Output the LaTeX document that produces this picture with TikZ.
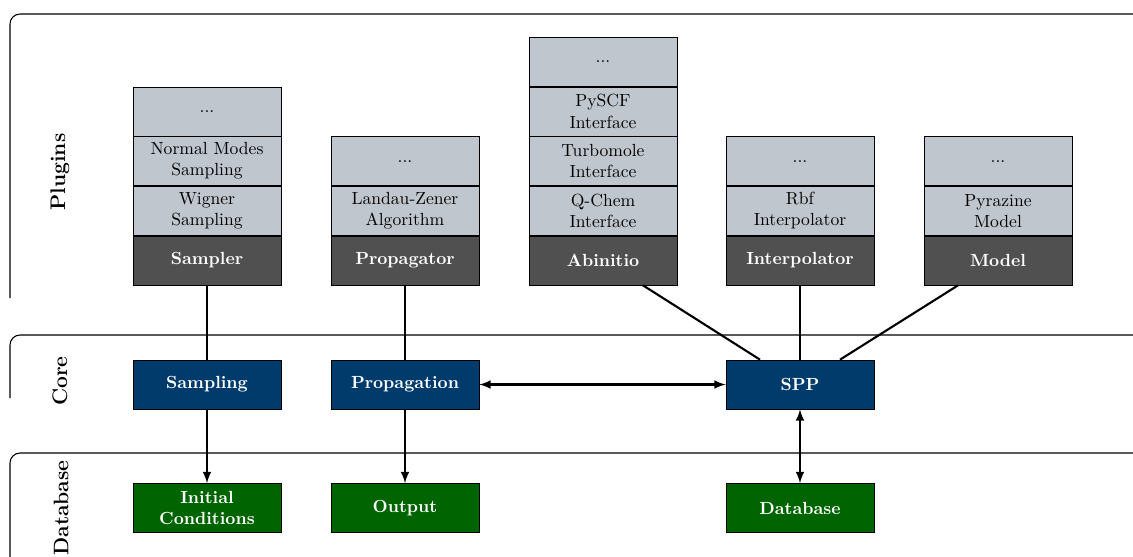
\documentclass[tikz,border=0pt]{standalone}
\usetikzlibrary{positioning,arrows}

\definecolor{plugingray}{RGB}{192,198,206}
\definecolor{basegray}{RGB}{80,80,80}
\definecolor{coreblue}{RGB}{0,59,107}
\definecolor{dbgreen}{RGB}{0,100,0}

\tikzset{
    block/.style={draw, minimum width=2.96cm, minimum height=0.98cm, inner sep=1pt, align=center},
    plugin/.style={block, fill=plugingray},
    base/.style={block, fill=basegray, text=white, font=\bfseries},
    core/.style={block, fill=coreblue, text=white, font=\bfseries},
    store/.style={block, fill=dbgreen, text=white, font=\bfseries},
    layer/.style={rotate=90, font=\large\bfseries},
    frame/.style={line width=0.6pt, rounded corners=0.2cm},
    link/.style={very thick},
}

\begin{document}
\begin{tikzpicture}[x=0.02cm, y=-0.02cm]
    \useasboundingbox (0,0) rectangle (1133,556);
    \clip (0,0) rectangle (1133,556);
    % layer frames
    \draw[frame] (10,298) |- (1160,14);
    \draw[frame] (10,398) |- (1160,335);
    \draw[frame] (10,580) |- (1160,453);
    \node[layer] (plugins) at (60,172) {Plugins};
    \node[layer] (corelabel) at (60,381) {Core};
    \node[layer] (dblabel) at (61,508) {Database};
    % plugin stacks
    \node[base] (sampler) at (207,260.5) {Sampler};
    \node[plugin, above=0pt of sampler] (wigner) {Wigner\\Sampling};
    \node[plugin, above=0pt of wigner] (normalmodes) {Normal Modes\\Sampling};
    \node[plugin, above=0pt of normalmodes] (samplerdots) {...};
    \node[base] (propagator) at (405,260.5) {Propagator};
    \node[plugin, above=0pt of propagator] (landauzener) {Landau-Zener\\Algorithm};
    \node[plugin, above=0pt of landauzener] (propagatordots) {...};
    \node[base] (abinitio) at (603,260.5) {Abinitio};
    \node[plugin, above=0pt of abinitio] (qchem) {Q-Chem\\Interface};
    \node[plugin, above=0pt of qchem] (turbomole) {Turbomole\\Interface};
    \node[plugin, above=0pt of turbomole] (pyscf) {PySCF\\Interface};
    \node[plugin, above=0pt of pyscf] (abinitiodots) {...};
    \node[base] (interpolator) at (800,260.5) {Interpolator};
    \node[plugin, above=0pt of interpolator] (rbf) {Rbf\\Interpolator};
    \node[plugin, above=0pt of rbf] (interpolatordots) {...};
    \node[base] (model) at (998,260.5) {Model};
    \node[plugin, above=0pt of model] (pyrazine) {Pyrazine\\Model};
    \node[plugin, above=0pt of pyrazine] (modeldots) {...};
    % core
    \node[core] (sampling) at (207,384.5) {Sampling};
    \node[core] (propagation) at (405,384.5) {Propagation};
    \node[core] (spp) at (800,384.5) {SPP};
    % database
    \node[store] (initial) at (207,508) {Initial\\Conditions};
    \node[store] (output) at (405,508) {Output};
    \node[store] (database) at (800,508) {Database};
    % connections
    \draw[link] (sampler) -- (sampling);
    \draw[link, -latex] (sampling) -- (initial);
    \draw[link] (propagator) -- (propagation);
    \draw[link, -latex] (propagation) -- (output);
    \draw[link, latex-latex] (propagation) -- (spp);
    \draw[link] ([xshift=0.8cm]abinitio.south) -- ([xshift=-0.8cm]spp.north);
    \draw[link] (interpolator) -- (spp);
    \draw[link] ([xshift=-0.8cm]model.south) -- ([xshift=0.8cm]spp.north);
    \draw[link, latex-latex] (spp) -- (database);
\end{tikzpicture}
\end{document}
